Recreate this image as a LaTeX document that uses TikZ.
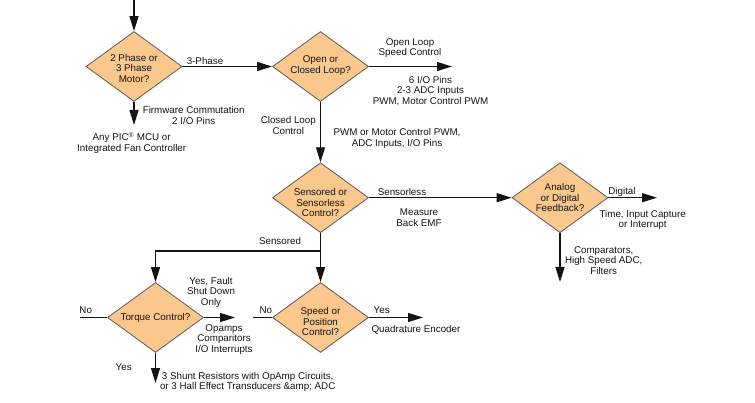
\documentclass[tikz,border=0pt]{standalone}
\usepackage{fontspec}
\setmainfont{Liberation Sans}
\usetikzlibrary{shapes.geometric,arrows.meta}
\definecolor{diafill}{RGB}{250,200,140}
\definecolor{diaedge}{RGB}{90,90,90}
\definecolor{ink}{RGB}{20,20,20}
\begin{document}
\begin{tikzpicture}[x=1pt,y=-1pt,
  dia/.style={shape=diamond,draw=diaedge,fill=diafill,line width=0.8pt,inner sep=0pt,minimum width=96pt,minimum height=70pt},
  txt/.style={inner sep=0pt,align=center,text=ink,font=\fontsize{9.8}{10.5}\selectfont},
  arr/.style={draw=ink,line width=1.2pt,-{Triangle[length=15pt,width=9pt]}},
  plain/.style={draw=ink,line width=1.2pt}]
\useasboundingbox (0,0) rectangle (755,403);
% diamonds
\node[dia] (d1) at (134,66.5) {};
\node[dia] (d2) at (320.5,66.5) {};
\node[dia] (d3) at (320.5,197.7) {};
\node[dia] (d4) at (560,197.7) {};
\node[dia] (d5) at (155.5,317.5) {};
\node[dia] (d6) at (320.5,317.5) {};
\node[txt] (t1) at ([yshift=-2pt]d1.center) {2 Phase or\\3 Phase\\Motor?};
\node[txt] (t2) at ([yshift=1pt]d2.center) {Open or\\Closed Loop?};
\node[txt] (t3) at ([yshift=-5pt]d3.center) {Sensored or\\Sensorless\\Control?};
\node[txt] (t4) at (d4) {Analog\\or Digital\\Feedback?};
\node[txt] (t5) at (d5) {Torque Control?};
\node[txt] (t6) at ([yshift=-4pt]d6.center) {Speed or\\Position\\Control?};
% free ends
\coordinate (s0) at (134,0);
\coordinate (e1) at (134,125);
\coordinate (e2) at (452,66.5);
\coordinate (e3) at (657,197.7);
\coordinate (e4) at (560,282);
\coordinate (br) at (320.5,251);
\coordinate (n1) at (80,317.5);
\coordinate (e5) at (235,317.5);
\coordinate (e6) at (155.5,383);
\coordinate (n2) at (253,317.5);
\coordinate (e7) at (423,317.5);
% connectors
\draw[arr] (s0) -- (d1.north);
\draw[arr] (d1.south) -- (e1);
\draw[arr] (d1.east) -- (d2.west);
\draw[arr] (d2.east) -- (e2);
\draw[arr] (d2.south) -- (d3.north);
\draw[arr] (d3.east) -- (d4.west);
\draw[arr] (d4.east) -- (e3);
\draw[arr] (d4.south) -- (e4);
\draw[arr] (d3.south) -- (d6.north);
\draw[arr] (br) -| (d5.north);
\draw[plain] (n1) -- (d5.west);
\draw[arr] (d5.east) -- (e5);
\draw[arr] (d5.south) -- (e6);
\draw[plain] (n2) -- (d6.west);
\draw[arr] (d6.east) -- (e7);
% labels
\node[txt] (l1) at (205,61) {3-Phase};
\node[txt] (l2) at (193.7,115.5) {Firmware Commutation\\2 I/O Pins};
\node[txt] (l3) at (131.7,143) {Any PIC\textsuperscript{®} MCU or\\Integrated Fan Controller};
\node[txt] (l4) at (410,48.3) {Open Loop\\Speed Control};
\node[txt] (l5) at (430.5,90.7) {6 I/O Pins\\2-3 ADC Inputs\\PWM, Motor Control PWM};
\node[txt] (l6) at (288.3,125.7) {Closed Loop\\Control};
\node[txt] (l7) at (397,138.3) {PWM or Motor Control PWM,\\ADC Inputs, I/O Pins};
\node[txt] (l8) at (402,192.3) {Sensorless};
\node[txt] (l9) at (419,217.7) {Measure\\Back EMF};
\node[txt] (l10) at (622,192.3) {Digital};
\node[txt] (l11) at (642.7,220) {Time, Input Capture\\or Interrupt};
\node[txt] (l12) at (603.7,260.5) {Comparators,\\High Speed ADC,\\Filters};
\node[txt] (l13) at (280,240.5) {Sensored};
\node[txt] (l14) at (85.7,310) {No};
\node[txt] (l15) at (211,292.3) {Yes, Fault\\Shut Down\\Only};
\node[txt] (l16) at (224,339.3) {Opamps\\Comparitors\\I/O Interrupts};
\node[txt] (l17) at (123.7,366.7) {Yes};
\node[txt] (l18) at (247.7,382.2) {3 Shunt Resistors with OpAmp Circuits,\\or 3 Hall Effect Transducers \&amp; ADC};
\node[txt] (l19) at (265.8,310) {No};
\node[txt] (l20) at (381.7,310) {Yes};
\node[txt] (l21) at (416,330) {Quadrature Encoder};
\end{tikzpicture}
\end{document}
